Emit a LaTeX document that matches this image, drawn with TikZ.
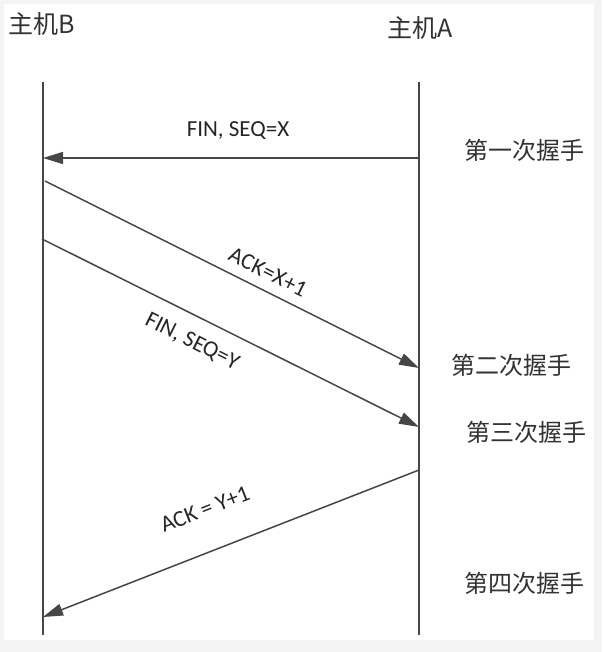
\documentclass[tikz,border=0pt]{standalone}
\usepackage{fontspec}
\setmainfont{Carlito}
\newfontfamily\cjk{Noto Sans CJK SC}
\usetikzlibrary{arrows.meta, positioning, calc}
\definecolor{pagegray}{HTML}{F4F4F4}
\definecolor{linegray}{HTML}{464646}
\definecolor{textgray}{HTML}{333333}
\tikzset{
  host/.style={font=\cjk\fontsize{25}{25}\selectfont, text=textgray, inner sep=0pt},
  phase/.style={font=\cjk\fontsize{24}{24}\selectfont, text=textgray, inner sep=0pt},
  msglabel/.style={font=\fontsize{23}{23}\selectfont, text=black!85, inner sep=0pt},
  lifeline/.style={line width=2pt, linegray},
  msg/.style={-{Triangle[length=20pt, width=12pt]}, line width=1.5pt, linegray}
}
\begin{document}
\begin{tikzpicture}[x=1pt, y=-1pt]
    % page and frame
    \fill[pagegray] (0,0) rectangle (602,652);
    \fill[white] (4,4) rectangle (594,640);
    \useasboundingbox (0,0) rectangle (602,652);

    % hosts and lifelines
    \node[host] (hostB) at (42,24) {主机B};
    \node[host] (hostA) at (420,28) {主机A};
    \coordinate (Btop) at (43,82);
    \coordinate (Bbot) at (43,635);
    \coordinate (Atop) at (419,82);
    \coordinate (Abot) at (419,635);
    \draw[lifeline] (Btop) -- (Bbot);
    \draw[lifeline] (Atop) -- (Abot);

    % message end points
    \coordinate (a1) at (419,158);
    \coordinate (b1) at (43,158);
    \coordinate (b2) at (45,181);
    \coordinate (a2) at (419,368);
    \coordinate (b3) at (42,239);
    \coordinate (a3) at (419,427);
    \coordinate (a4) at (419,470);
    \coordinate (b4) at (43,617);

    \draw[msg] (a1) -- (b1);
    \draw[msg] (b2) -- (a2);
    \draw[msg] (b3) -- (a3);
    \draw[msg] (a4) -- (b4);

    % message labels
    \node[msglabel] (fin1) at (238,131) {FIN, SEQ=X};
    \node[msglabel, rotate=-26.5] (ack1) at (268,272) {ACK=X+1};
    \node[msglabel, rotate=-26.5] (fin2) at (192,342) {FIN, SEQ=Y};
    \node[msglabel, rotate=21.4] (ack2) at (205,509) {ACK = Y+1};

    % phases
    \node[phase] (p1) at (524,150) {第一次握手};
    \node[phase] (p2) at (511,365) {第二次握手};
    \node[phase] (p3) at (526,432) {第三次握手};
    \node[phase] (p4) at (524,583) {第四次握手};
\end{tikzpicture}
\end{document}
